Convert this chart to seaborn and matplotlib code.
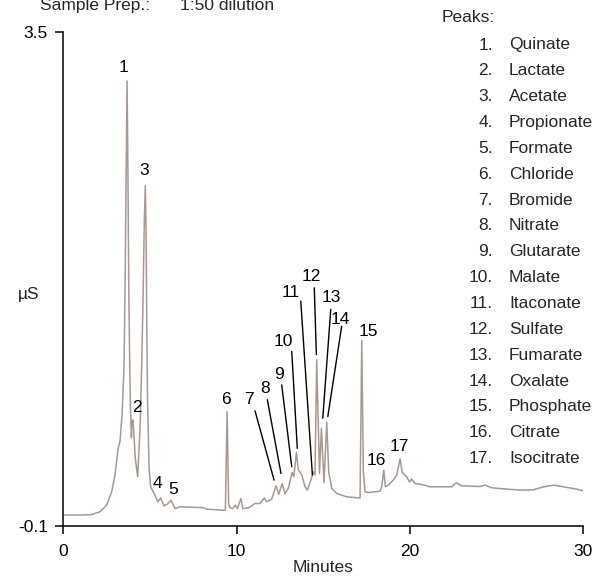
import matplotlib
matplotlib.use("Agg")
import matplotlib.pyplot as plt
import seaborn as sns
import pandas as pd

# Conductivity trace (minutes, µS)
minutes = [0.0, 1.0, 1.6, 2.1, 2.5, 2.79, 2.98, 3.17, 3.27, 3.39, 3.5, 3.56, 3.62, 3.68,
           3.73, 3.78, 3.84, 3.88, 3.93, 3.97, 4.02, 4.06, 4.15, 4.29, 4.43, 4.52, 4.6,
           4.67, 4.73, 4.78, 4.82, 4.86, 4.95, 5.04, 5.29, 5.45, 5.62, 5.81, 6.0, 6.21,
           6.45, 6.73, 7.31, 8.07, 8.27, 9.23, 9.35, 9.45, 9.54, 9.62, 9.77, 9.92, 10.04,
           10.25, 10.35, 10.68, 11.06, 11.35, 11.6, 11.74, 12.02, 12.27, 12.43, 12.62,
           12.79, 12.98, 13.2, 13.3, 13.45, 13.56, 13.76, 13.95, 14.08, 14.24, 14.43,
           14.52, 14.62, 14.78, 14.89, 15.04, 15.2, 15.31, 15.49, 15.78, 16.35, 17.02,
           17.12, 17.22, 17.31, 17.41, 17.6, 18.27, 18.37, 18.49, 18.58, 18.75, 19.04,
           19.24, 19.43, 19.55, 19.8, 19.97, 20.1, 20.29, 20.68, 21.16, 22.41, 22.66,
           22.99, 24.04, 24.33, 24.72, 25.59, 26.35, 27.12, 27.7, 28.32, 28.85, 29.62, 30.0]
signal = [-0.02, -0.02, -0.018, 0.003, 0.052, 0.15, 0.27, 0.47, 0.515, 0.71, 1.05, 1.6, 2.4,
          3.146, 2.45, 1.6, 1.0, 0.75, 0.545, 0.66, 0.674, 0.6, 0.4, 0.259, 0.613, 1.05,
          1.55, 2.1, 2.382, 2.0, 1.3, 0.81, 0.32, 0.186, 0.125, 0.076, 0.105, 0.047, 0.06,
          0.088, 0.027, 0.04, 0.037, 0.034, 0.023, 0.015, 0.015, 0.735, 0.064, 0.032,
          0.027, 0.052, 0.027, 0.10, 0.027, 0.032, 0.064, 0.064, 0.105, 0.076, 0.096,
          0.193, 0.13, 0.21, 0.137, 0.174, 0.29, 0.26, 0.435, 0.31, 0.272, 0.186, 0.162,
          0.22, 0.296, 0.272, 1.113, 0.283, 0.613, 0.217, 0.657, 0.296, 0.174, 0.137,
          0.113, 0.105, 0.105, 1.253, 0.296, 0.149, 0.144, 0.154, 0.186, 0.308, 0.186,
          0.198, 0.235, 0.272, 0.39, 0.29, 0.26, 0.222, 0.242, 0.21, 0.203, 0.186, 0.186,
          0.215, 0.193, 0.188, 0.198, 0.179, 0.169, 0.162, 0.164, 0.186, 0.198, 0.186,
          0.169, 0.157]

peak_names = ["Quinate", "Lactate", "Acetate", "Propionate", "Formate", "Chloride",
              "Bromide", "Nitrate", "Glutarate", "Malate", "Itaconate", "Sulfate",
              "Fumarate", "Oxalate", "Phosphate", "Citrate", "Isocitrate"]
x_ticks = [0, 10, 20, 30]
y_ticks = [-0.1, 3.5]

# Peak number placement (minutes, µS)
label_x = [3.50, 4.24, 4.66, 5.42, 6.31, 9.39, 10.73, 11.64, 12.46, 12.69, 13.12, 14.29,
           15.49, 15.97, 17.60, 18.08, 19.39]
label_y = [3.246, 0.764, 2.492, 0.208, 0.166, 0.821, 0.821, 0.901, 1.004, 1.247, 1.601,
           1.723, 1.570, 1.406, 1.321, 0.381, 0.479]
# Leader lines for crowded peaks: (peak no., x0, y0, x1, y1)
leaders = [(7, 11.06, 0.740, 12.16, 0.235), (8, 11.77, 0.821, 12.56, 0.283),
           (9, 12.60, 0.930, 13.18, 0.332), (10, 13.18, 1.174, 13.50, 0.466),
           (11, 13.70, 1.540, 14.37, 0.272), (12, 14.48, 1.638, 14.60, 1.150),
           (13, 15.43, 1.480, 14.97, 0.686), (14, 16.06, 1.357, 15.26, 0.698)]

sns.set_style("ticks")
FONT = ["Liberation Sans", "DejaVu Sans"]
plt.rcParams["font.family"] = FONT
FS = 12.5

W, H = 592, 579
fig = plt.figure(figsize=(W / 100, H / 100), dpi=100)
ax = fig.add_axes([63.3 / W, 1 - 526 / H, (583.3 - 63.3) / W, (526 - 32.5) / H])

df = pd.DataFrame({"Minutes": minutes, "µS": signal})
sns.lineplot(data=df, x="Minutes", y="µS", ax=ax, color="#a8988f", linewidth=1.1,
             estimator=None, sort=False)

ax.set_xlim(0, 30)
ax.set_ylim(-0.1, 3.5)
ax.set_xticks(x_ticks)
ax.set_xticklabels([str(t) for t in x_ticks])
ax.set_yticks(y_ticks)
ax.set_yticklabels([f"{t:g}" for t in y_ticks])
ax.tick_params(direction="out", length=6, width=1.1, color="black", labelsize=FS,
               pad=5, labelcolor="black")
ax.tick_params(axis="x", pad=7)
for s in ["top", "right"]:
    ax.spines[s].set_visible(False)
for s in ["left", "bottom"]:
    ax.spines[s].set_color("black")
    ax.spines[s].set_linewidth(1.1)

ax.set_xlabel("Minutes", fontsize=FS, labelpad=1)
ax.set_ylabel("")
fig.text(29 / W, 1 - 294 / H, "µS", fontsize=FS, ha="center", va="center")

# peak numbers
for i, (lx, ly) in enumerate(zip(label_x, label_y)):
    ax.text(lx, ly, str(i + 1), fontsize=FS, ha="center", va="center", color="black")
for n, x0, y0, x1, y1 in leaders:
    ax.plot([x0, x1], [y0, y1], color="black", linewidth=1.0)

# peak key
fig.text(442 / W, 1 - 18 / H, "Peaks:", fontsize=FS, ha="left", va="center")
for i, name in enumerate(peak_names):
    y = 1 - (45 + 25.85 * i) / H
    fig.text(493 / W, y, f"{i + 1}.", fontsize=FS, ha="right", va="center")
    fig.text(509 / W, y, name, fontsize=FS, ha="left", va="center")

# sample preparation note
fig.text(40 / W, 1 - 10 / H, "Sample Prep.:", fontsize=FS, ha="left", va="baseline")
fig.text(180 / W, 1 - 10 / H, "1:50 dilution", fontsize=FS, ha="left", va="baseline")

fig.savefig("out.png", dpi=100)
